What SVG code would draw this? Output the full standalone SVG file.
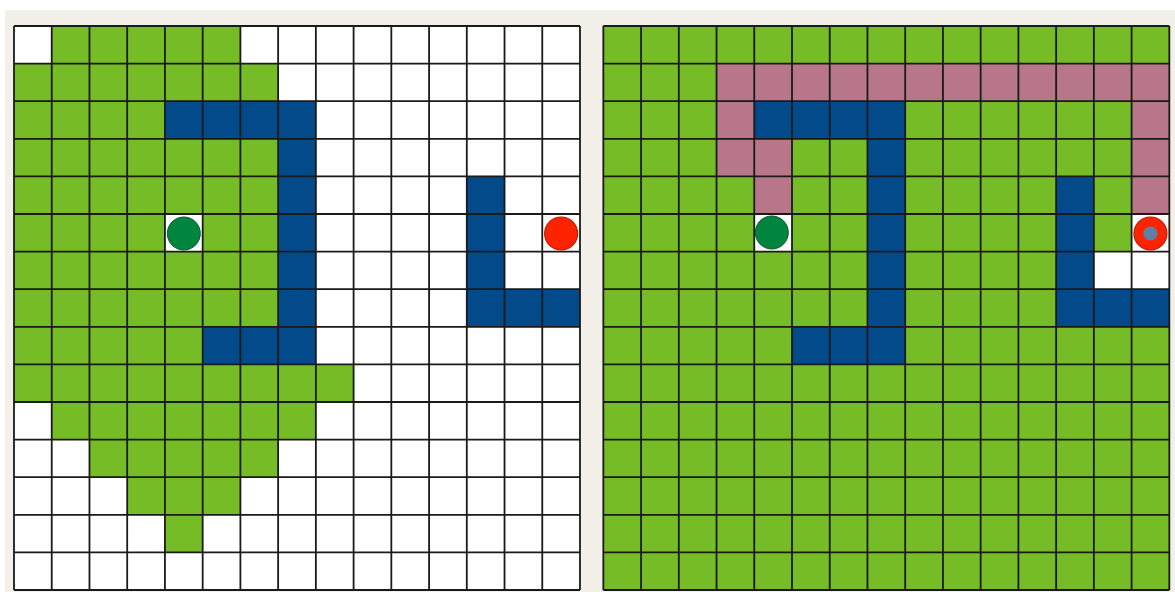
<svg xmlns="http://www.w3.org/2000/svg" xmlns:xlink="http://www.w3.org/1999/xlink" width="1175" height="592" viewBox="0 0 1175 592">
  <style>
    .g { fill: #76bc26; }
    .w { fill: #ffffff; }
    .b { fill: #034a8b; }
    .p { fill: #b87689; }
    .lines { fill: none; stroke: #1a1a1a; stroke-width: 1.8; }
    .start { fill: #00853f; stroke: #0a5a2e; stroke-width: 1; }
    .goal { fill: #ff2400; stroke: #c21a00; stroke-width: 1.2; }
    .dot { fill: #5a82a6; }
  </style>
  <defs>
    <g id="walls">
      <rect class="b" x="150.93" y="75.2" width="150.93" height="37.6"/>
      <rect class="b" x="264.13" y="112.8" width="37.73" height="188"/>
      <rect class="b" x="188.67" y="300.8" width="113.2" height="37.6"/>
      <rect class="b" x="452.8" y="150.4" width="37.73" height="150.4"/>
      <rect class="b" x="490.53" y="263.2" width="75.47" height="37.6"/>
    </g>
    <path id="gridlines" d="M0,0H566M0,37.6H566M0,75.2H566M0,112.8H566M0,150.4H566M0,188H566M0,225.6H566M0,263.2H566M0,300.8H566M0,338.4H566M0,376H566M0,413.6H566M0,451.2H566M0,488.8H566M0,526.4H566M0,564H566M0,0V564M37.73,0V564M75.47,0V564M113.2,0V564M150.93,0V564M188.67,0V564M226.4,0V564M264.13,0V564M301.87,0V564M339.6,0V564M377.33,0V564M415.07,0V564M452.8,0V564M490.53,0V564M528.27,0V564M566,0V564"/>
  </defs>

  <rect x="0" y="0" width="1175" height="592" fill="#ffffff"/>
  <rect x="5" y="10" width="1170" height="582" fill="#f3f0ea"/>

  <g id="left-grid" transform="translate(14,26)">
    <rect class="w" x="0" y="0" width="566" height="564"/>
    <g id="left-explored">
      <rect class="g" x="37.73" y="0" width="188.67" height="37.6"/>
      <rect class="g" x="0" y="37.6" width="264.13" height="37.6"/>
      <rect class="g" x="0" y="75.2" width="150.93" height="37.6"/>
      <rect class="g" x="0" y="112.8" width="264.13" height="188"/>
      <rect class="w" x="150.93" y="188" width="37.73" height="37.6"/>
      <rect class="g" x="0" y="300.8" width="188.67" height="37.6"/>
      <rect class="g" x="0" y="338.4" width="339.6" height="37.6"/>
      <rect class="g" x="37.73" y="376" width="264.13" height="37.6"/>
      <rect class="g" x="75.47" y="413.6" width="188.67" height="37.6"/>
      <rect class="g" x="113.2" y="451.2" width="113.2" height="37.6"/>
      <rect class="g" x="150.93" y="488.8" width="37.73" height="37.6"/>
    </g>
    <use xlink:href="#walls" href="#walls"/>
    <use xlink:href="#gridlines" href="#gridlines" class="lines"/>
    <circle id="left-start" class="start" cx="169.8" cy="207.5" r="16.5"/>
    <circle id="left-goal" class="goal" cx="547.13" cy="207.5" r="16.5"/>
  </g>

  <g id="right-grid" transform="translate(603.33,26)">
    <rect class="g" x="0" y="0" width="566" height="564"/>
    <g id="right-path">
      <rect class="p" x="113.2" y="37.6" width="452.8" height="37.6"/>
      <rect class="p" x="113.2" y="75.2" width="37.73" height="75.2"/>
      <rect class="p" x="150.93" y="112.8" width="37.73" height="75.2"/>
      <rect class="p" x="528.27" y="75.2" width="37.73" height="112.8"/>
    </g>
    <rect class="w" x="150.93" y="188" width="37.73" height="37.6"/>
    <rect class="w" x="528.27" y="188" width="37.73" height="37.6"/>
    <rect class="w" x="490.53" y="225.6" width="75.47" height="37.6"/>
    <use xlink:href="#walls" href="#walls"/>
    <use xlink:href="#gridlines" href="#gridlines" class="lines"/>
    <circle id="right-start" class="start" cx="168.5" cy="206.5" r="16.5"/>
    <g id="right-goal">
      <circle class="goal" cx="547.13" cy="207.5" r="16.5"/>
      <circle class="dot" cx="547.13" cy="207.5" r="7"/>
    </g>
  </g>
</svg>
